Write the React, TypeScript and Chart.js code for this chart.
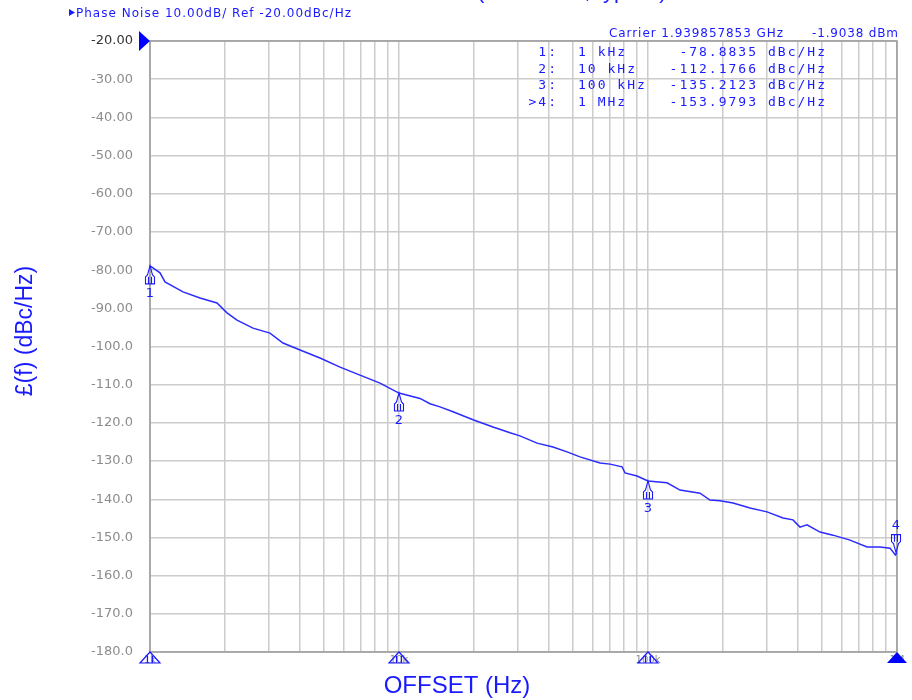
import React, { useEffect, useRef } from 'react';
import { Chart, registerables } from 'chart.js';

Chart.register(...registerables);

// ---- data ----
const offsetHz = [
  1000, 1097, 1149, 1357, 1588, 1858, 2038, 2236, 2592, 3033, 3421, 4004, 4817, 5797, 6972, 8388,
  10000, 12140, 13320, 14610, 16480, 19830, 23850, 27920, 30610, 35840, 41550, 47290, 53330,
  64150, 70380, 78650, 80850, 90320, 100000, 119200, 134500, 161800, 177400, 194600, 219500,
  256800, 300600, 348500, 382200, 407700, 435000, 490800, 553400, 647500, 757800, 854400,
  937400, 985000, 1000000,
];
const phaseNoiseDbc = [
  -78.9, -80.7, -83.1, -85.7, -87.3, -88.6, -91.2, -93.1, -95.2, -96.5, -99.1, -100.9, -103.0,
  -105.4, -107.5, -109.6, -112.2, -113.6, -115.0, -115.8, -117.1, -119.2, -121.1, -122.6,
  -123.4, -125.3, -126.3, -127.6, -128.9, -130.5, -130.8, -131.5, -133.1, -133.9, -135.2,
  -135.7, -137.6, -138.4, -140.2, -140.4, -141.0, -142.3, -143.3, -144.9, -145.4, -147.3,
  -146.7, -148.6, -149.4, -150.7, -152.5, -152.5, -152.8, -154.6, -154.0,
];

const markerIds = ['1', '2', '3', '4'];
const markerRowIds = ['1:', '2:', '3:', '>4:'];
const markerHz = [1e3, 1e4, 1e5, 1e6];
const markerFreqLabels = ['1 kHz', '10 kHz', '100 kHz', '1 MHz'];
const markerDbc = [-78.8835, -112.1766, -135.2123, -153.9793];
const xTickLabels = ['1k', '10k', '100k', '1M'];

const yMin = -180;
const yMax = -20;
const yStep = 10;
const xMin = 1e3;
const xMax = 1e6;

const headerText = 'Phase Noise 10.00dB/ Ref -20.00dBc/Hz';
const carrierText = 'Carrier 1.939857853 GHz';
const carrierPower = '-1.9038 dBm';
const topTitle = 'Phase Noise (1940 MHz, typical)';
const xTitle = 'OFFSET (Hz)';
const yTitle = '£(f) (dBc/Hz)';

const BLUE = '#1a1aff';
const TRACE = '#2b2bff';

function fitText(ctx: CanvasRenderingContext2D, text: string, x: number, y: number, width: number) {
  (ctx as any).letterSpacing = '0px';
  ctx.textAlign = 'left';
  const w = ctx.measureText(text).width;
  const n = text.length;
  const sp = n > 1 ? (width - w) / (n - 1) : 0;
  (ctx as any).letterSpacing = sp + 'px';
  ctx.fillText(text, x, y);
  (ctx as any).letterSpacing = '0px';
}

function rightText(ctx: CanvasRenderingContext2D, text: string, right: number, y: number, spacing: number) {
  (ctx as any).letterSpacing = spacing + 'px';
  ctx.textAlign = 'left';
  const w = ctx.measureText(text).width - spacing;
  ctx.fillText(text, right - w, y);
  (ctx as any).letterSpacing = '0px';
}

function leftText(ctx: CanvasRenderingContext2D, text: string, left: number, y: number, spacing: number) {
  (ctx as any).letterSpacing = spacing + 'px';
  ctx.textAlign = 'left';
  ctx.fillText(text, left, y);
  (ctx as any).letterSpacing = '0px';
}

function traceMarker(ctx: CanvasRenderingContext2D, px: number, py: number, dir: number) {
  // dir = 1 -> shape below the tip (pointing up); dir = -1 -> above (pointing down)
  const p = (dx: number, dy: number) => [px + dx, py + dir * dy] as [number, number];
  const pts = [p(0, 0), p(-2.5, 9), p(-4.5, 11), p(-4.5, 18), p(4.5, 18), p(4.5, 11), p(2.5, 9)];
  ctx.beginPath();
  ctx.moveTo(...pts[0]);
  for (let i = 1; i < pts.length; i++) ctx.lineTo(...pts[i]);
  ctx.closePath();
  ctx.moveTo(...p(-1.5, 11));
  ctx.lineTo(...p(-1.5, 18));
  ctx.moveTo(...p(1.5, 11));
  ctx.lineTo(...p(1.5, 18));
  ctx.stroke();
}

const overlay = {
  id: 'overlay',
  beforeDatasetsDraw(chart: any) {
    const { ctx, chartArea: a } = chart;
    ctx.save();
    ctx.strokeStyle = '#9a9a9a';
    ctx.lineWidth = 1.5;
    ctx.strokeRect(a.left, a.top, a.right - a.left, a.bottom - a.top);
    ctx.restore();
  },
  afterDraw(chart: any) {
    const { ctx, chartArea: a, scales } = chart;
    const x = scales.x;
    const y = scales.y;
    ctx.save();

    // cut-off title at the very top
    ctx.fillStyle = BLUE;
    ctx.font = '22px "Liberation Sans", Arial, sans-serif';
    ctx.textBaseline = 'alphabetic';
    const pre = ctx.measureText('Phase Noise ').width;
    ctx.textAlign = 'left';
    ctx.fillText(topTitle, 477 - pre, -2);

    // header line
    ctx.font = '12px "DejaVu Sans", sans-serif';
    ctx.fillStyle = BLUE;
    ctx.beginPath();
    ctx.moveTo(69, 9);
    ctx.lineTo(75, 12.5);
    ctx.lineTo(69, 16);
    ctx.closePath();
    ctx.fill();
    fitText(ctx, headerText, 76, 17, 275);

    // carrier line
    fitText(ctx, carrierText, 609, 37, 174);
    fitText(ctx, carrierPower, 812, 37, 86);

    // marker table
    ctx.font = '13px "DejaVu Sans Mono", monospace';
    for (let i = 0; i < markerIds.length; i++) {
      const by = 56 + i * 16.5;
      rightText(ctx, markerRowIds[i], 556, by, 2);
      leftText(ctx, markerFreqLabels[i], 578, by, 2);
      rightText(ctx, markerDbc[i].toFixed(4), 756, by, 2);
      leftText(ctx, 'dBc/Hz', 768, by, 2);
    }

    // reference level arrow
    const yRef = y.getPixelForValue(yMax);
    ctx.fillStyle = '#0000ff';
    ctx.beginPath();
    ctx.moveTo(139, yRef - 10);
    ctx.lineTo(a.left, yRef);
    ctx.lineTo(139, yRef + 10);
    ctx.closePath();
    ctx.fill();

    // x tick labels (mostly covered by markers)
    ctx.font = '10px "DejaVu Sans", sans-serif';
    ctx.fillStyle = '#8c8c8c';
    ctx.textAlign = 'center';
    for (let i = 0; i < xTickLabels.length; i++) {
      const px = x.getPixelForValue(markerHz[i]);
      ctx.fillText(xTickLabels[i], px, a.bottom + 11);
    }

    // bottom axis marker triangles
    ctx.strokeStyle = '#1a1aff';
    ctx.fillStyle = '#0000ff';
    ctx.lineWidth = 1.2;
    for (let i = 0; i < markerHz.length; i++) {
      const px = x.getPixelForValue(markerHz[i]);
      ctx.beginPath();
      ctx.moveTo(px, a.bottom);
      ctx.lineTo(px - 10, a.bottom + 11);
      ctx.lineTo(px + 10, a.bottom + 11);
      ctx.closePath();
      if (i === markerHz.length - 1) {
        ctx.fill();
      } else {
        ctx.stroke();
        ctx.beginPath();
        ctx.moveTo(px - 2.5, a.bottom + 4);
        ctx.lineTo(px - 2.5, a.bottom + 11);
        ctx.moveTo(px + 2.5, a.bottom + 4);
        ctx.lineTo(px + 2.5, a.bottom + 11);
        ctx.stroke();
      }
    }

    // markers on trace
    ctx.font = '13px "DejaVu Sans", sans-serif';
    ctx.fillStyle = BLUE;
    ctx.strokeStyle = BLUE;
    ctx.lineWidth = 1.1;
    ctx.textAlign = 'center';
    ctx.textBaseline = 'middle';
    for (let i = 0; i < markerHz.length; i++) {
      const px = x.getPixelForValue(markerHz[i]);
      const py = y.getPixelForValue(markerDbc[i]);
      const last = i === markerHz.length - 1;
      const mx = Math.min(px, a.right - 1);
      traceMarker(ctx, mx, py, last ? -1 : 1);
      ctx.fillText(markerIds[i], mx, last ? py - 27 : py + 28);
    }

    // axis titles
    ctx.textBaseline = 'alphabetic';
    ctx.fillStyle = BLUE;
    ctx.font = '24px "Liberation Sans", Arial, sans-serif';
    ctx.textAlign = 'center';
    ctx.fillText(xTitle, 457, 693);

    ctx.save();
    ctx.translate(32, 331);
    ctx.rotate(-Math.PI / 2);
    ctx.font = '23px "Liberation Sans", Arial, sans-serif';
    ctx.fillText(yTitle, 0, 0);
    ctx.restore();

    ctx.restore();
  },
};

const gridHz: number[] = [];
for (let d = xMin; d < xMax; d *= 10) {
  for (let m = 1; m <= 9; m++) gridHz.push(m * d);
}
gridHz.push(xMax);

export default function App() {
  const ref = useRef<HTMLCanvasElement | null>(null);

  useEffect(() => {
    document.body.style.margin = '0';
    const canvas = ref.current;
    if (!canvas) return;
    const chart = new Chart(canvas, {
      type: 'line',
      data: {
        datasets: [
          {
            data: offsetHz.map((f, i) => ({ x: f, y: phaseNoiseDbc[i] })),
            borderColor: TRACE,
            borderWidth: 1.5,
            pointRadius: 0,
            tension: 0,
            fill: false,
          },
        ],
      },
      options: {
        responsive: false,
        animation: false,
        devicePixelRatio: 1,
        layout: { padding: { top: 41, right: 15, left: 0, bottom: 0 } },
        plugins: {
          legend: { display: false },
          tooltip: { enabled: false },
          title: { display: false },
        },
        scales: {
          x: {
            type: 'logarithmic',
            min: xMin,
            max: xMax,
            afterBuildTicks: (s: any) => {
              s.ticks = gridHz.map((v) => ({ value: v }));
            },
            afterFit: (s: any) => {
              s.height = 48;
            },
            ticks: { display: false },
            grid: { color: '#cccccc', lineWidth: 1.5, drawTicks: false },
            border: { display: false },
          },
          y: {
            min: yMin,
            max: yMax,
            afterFit: (s: any) => {
              s.width = 150;
            },
            ticks: {
              stepSize: yStep,
              padding: 17,
              color: (c: any) => (c.tick && c.tick.value === yMax ? '#333333' : '#8c8c8c'),
              font: { family: '"DejaVu Sans", sans-serif', size: 13 },
              callback: (v: any) => (v > -100 ? Number(v).toFixed(2) : Number(v).toFixed(1)),
            },
            grid: { color: '#cccccc', lineWidth: 1.5, drawTicks: false },
            border: { display: false },
          },
        },
      } as any,
      plugins: [overlay],
    });
    return () => chart.destroy();
  }, []);

  return <canvas ref={ref} width={912} height={700} style={{ display: 'block', width: 912, height: 700 }} />;
}
